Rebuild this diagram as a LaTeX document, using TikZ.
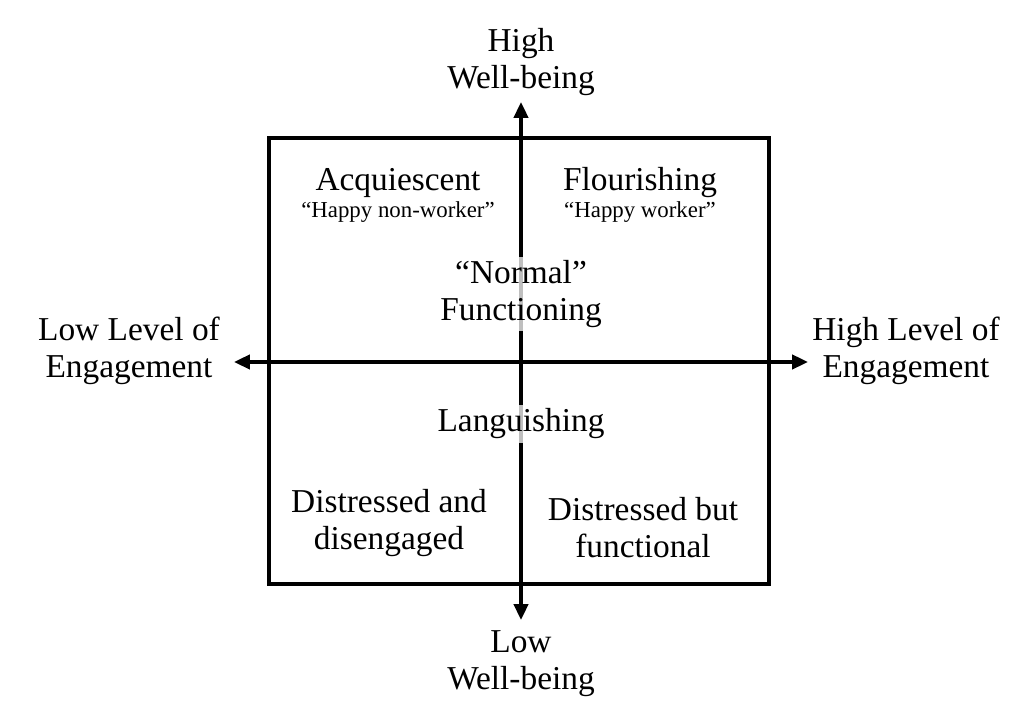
\documentclass[tikz,border=0pt]{standalone}
\usepackage{fontspec}
\setmainfont{Liberation Serif}
\usetikzlibrary{arrows.meta}

\begin{document}
\begin{tikzpicture}[x=0.02cm, y=-0.02cm,
    etiqueta/.style={align=center, font=\fontsize{19}{21}\selectfont, inner sep=2pt, fill=white, fill opacity=0.75, text opacity=1},
    sub/.style={align=center, font=\fontsize{13}{15}\selectfont, inner sep=1pt},
    eje/.style={line width=2.1pt, -{Triangle[length=9pt,width=8pt]}}]
        \useasboundingbox (0,0) rectangle (1024,715);

        % Marco
        \draw[line width=2.4pt] (269,138) rectangle (769,584);

        % Ejes
        \coordinate (izq) at (234,362);
        \coordinate (der) at (808,362);
        \coordinate (arr) at (521,102);
        \coordinate (aba) at (521,620);
        \coordinate (cen) at (521,362);
        \draw[eje] (cen) -- (izq);
        \draw[eje] (cen) -- (der);
        \draw[eje] (cen) -- (arr);
        \draw[eje] (cen) -- (aba);

        % Etiquetas de los ejes
        \node[etiqueta, fill opacity=0] (alto) at (521,62) {High\\Well-being};
        \node[etiqueta, fill opacity=0] (bajo) at (521,664) {Low\\Well-being};
        \node[etiqueta, fill opacity=0] (bajoE) at (129,351) {Low Level of\\Engagement};
        \node[etiqueta, fill opacity=0] (altoE) at (906,351) {High Level of\\Engagement};

        % Cuadrantes
        \node[etiqueta] (acq) at (398,183) {Acquiescent};
        \node[sub] (acqs) at (398,212) {``Happy non-worker''};
        \node[etiqueta] (flo) at (640,183) {Flourishing};
        \node[sub] (flos) at (640,212) {``Happy worker''};
        \node[etiqueta] (nor) at (521,294) {``Normal''\\Functioning};
        \node[etiqueta] (lan) at (521,424) {Languishing};
        \node[etiqueta, fill opacity=0] (dis) at (389,523) {Distressed and\\disengaged};
        \node[etiqueta, fill opacity=0] (fun) at (643,528) {Distressed but\\functional};

    \end{tikzpicture}
\end{document}
